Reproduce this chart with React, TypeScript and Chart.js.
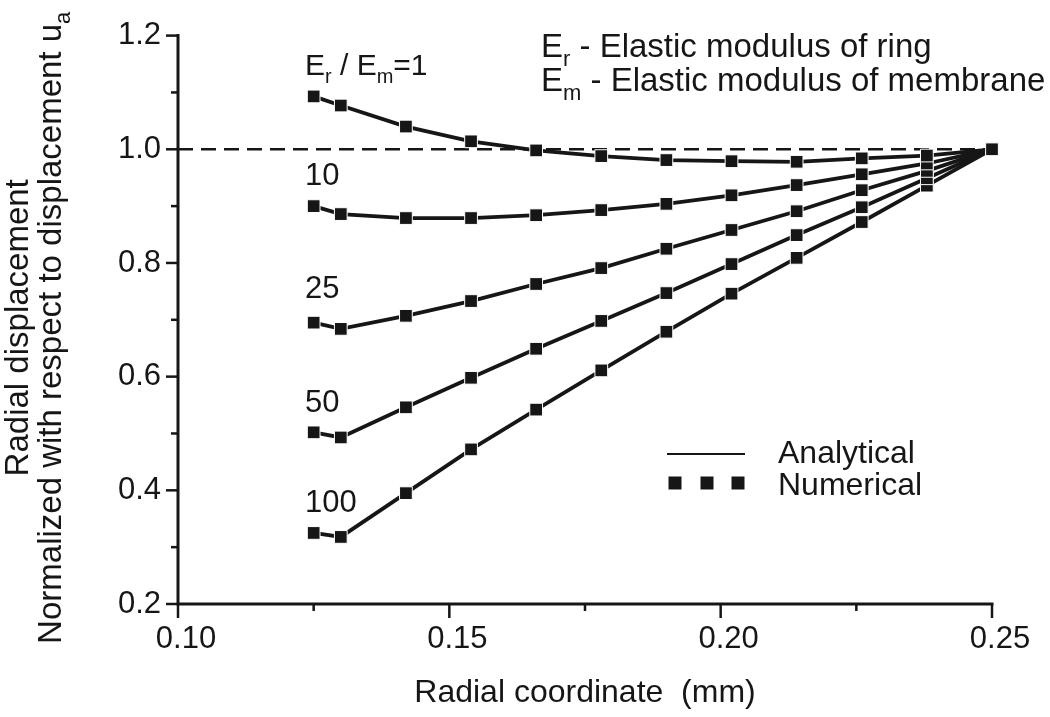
import { useEffect, useRef } from 'react';
import { Chart, registerables } from 'chart.js';

Chart.register(...registerables);

// ---- data ----
const radialCoordinate = [0.125, 0.13, 0.142, 0.154, 0.166, 0.178, 0.19, 0.202, 0.214, 0.226, 0.238, 0.25];
const ratio1 = [1.093, 1.077, 1.04, 1.014, 0.998, 0.988, 0.981, 0.979, 0.978, 0.984, 0.989, 1.0];
const ratio10 = [0.9, 0.886, 0.879, 0.879, 0.884, 0.893, 0.904, 0.919, 0.937, 0.956, 0.975, 1.0];
const ratio25 = [0.695, 0.684, 0.707, 0.733, 0.763, 0.791, 0.825, 0.858, 0.891, 0.928, 0.962, 1.0];
const ratio50 = [0.502, 0.493, 0.546, 0.598, 0.649, 0.698, 0.747, 0.798, 0.849, 0.898, 0.949, 1.0];
const ratio100 = [0.325, 0.318, 0.395, 0.472, 0.542, 0.611, 0.679, 0.746, 0.809, 0.872, 0.936, 1.0];
const seriesValues = [ratio1, ratio10, ratio25, ratio50, ratio100];
const seriesLabels = ['1', '10', '25', '50', '100'];
const referenceLevel = 1.0;
const xRange = [0.1, 0.25];
const yRange = [0.2, 1.2];
const xTickStep = 0.025;
const yTickStep = 0.1;
const xMajorStep = 0.05;
const yMajorStep = 0.2;

const FONT = '"Liberation Sans", Arial, Helvetica, sans-serif';
const INK = '#161616';

type Part = { t: string; sub?: boolean };

function drawRich(ctx: CanvasRenderingContext2D, parts: Part[], x: number, y: number, size: number, align: 'left' | 'center' = 'left') {
  const mainFont = `${size}px ${FONT}`;
  const subFont = `${Math.round(size * 0.68)}px ${FONT}`;
  const widths = parts.map((p) => {
    ctx.font = p.sub ? subFont : mainFont;
    return ctx.measureText(p.t).width;
  });
  const total = widths.reduce((a, b) => a + b, 0);
  let cx = align === 'center' ? x - total / 2 : x;
  ctx.textAlign = 'left';
  ctx.textBaseline = 'alphabetic';
  parts.forEach((p, i) => {
    ctx.font = p.sub ? subFont : mainFont;
    ctx.fillText(p.t, cx, p.sub ? y + size * 0.26 : y);
    cx += widths[i];
  });
}

function isMajor(v: number, step: number) {
  const r = v / step;
  return Math.abs(r - Math.round(r)) < 1e-6;
}

const overlay = {
  id: 'overlay',
  afterDraw(chart: any) {
    const ctx: CanvasRenderingContext2D = chart.ctx;
    const { left, right, top, bottom } = chart.chartArea;
    const xs = chart.scales.x;
    const ys = chart.scales.y;
    ctx.save();
    ctx.strokeStyle = INK;
    ctx.fillStyle = INK;

    // axis lines
    ctx.lineWidth = 3;
    ctx.lineCap = 'square';
    ctx.beginPath();
    ctx.moveTo(left, top);
    ctx.lineTo(left, bottom);
    ctx.lineTo(right, bottom);
    ctx.stroke();

    // ticks
    ctx.lineWidth = 2.5;
    ctx.lineCap = 'butt';
    xs.ticks.forEach((t: any) => {
      const px = xs.getPixelForValue(t.value);
      const len = isMajor(t.value, xMajorStep) ? 14 : 7;
      ctx.beginPath();
      ctx.moveTo(px, bottom);
      ctx.lineTo(px, bottom + len);
      ctx.stroke();
    });
    ys.ticks.forEach((t: any) => {
      const py = ys.getPixelForValue(t.value);
      const len = isMajor(t.value, yMajorStep) ? 12 : 7;
      ctx.beginPath();
      ctx.moveTo(left, py);
      ctx.lineTo(left - len, py);
      ctx.stroke();
    });

    // axis titles
    ctx.font = `32px ${FONT}`;
    ctx.textAlign = 'center';
    ctx.textBaseline = 'middle';
    ctx.fillText('Radial coordinate  (mm)', (left + right) / 2, 693);

    const midY = (top + bottom) / 2 + 8;
    ctx.save();
    ctx.translate(17, midY);
    ctx.rotate(-Math.PI / 2);
    drawRich(ctx, [{ t: 'Radial displacement' }], 0, 11, 33, 'center');
    ctx.restore();
    ctx.save();
    ctx.translate(50, midY);
    ctx.rotate(-Math.PI / 2);
    drawRich(ctx, [{ t: 'Normalized with respect to displacement u' }, { t: 'a', sub: true }], 0, 11, 33, 'center');
    ctx.restore();

    // series annotations
    const labelX = 305;
    drawRich(ctx, [{ t: 'E' }, { t: 'r', sub: true }, { t: ' / E' }, { t: 'm', sub: true }, { t: '=1' }], labelX, 75, 30);
    const labelBaselines = [185, 298, 412, 512];
    seriesLabels.slice(1).forEach((s, i) => {
      drawRich(ctx, [{ t: s }], labelX, labelBaselines[i], 31);
    });

    // top-right description
    drawRich(ctx, [{ t: 'E' }, { t: 'r', sub: true }, { t: ' - Elastic modulus of ring' }], 541, 57, 33);
    drawRich(ctx, [{ t: 'E' }, { t: 'm', sub: true }, { t: ' - Elastic modulus of membrane' }], 541, 91, 33);

    // legend
    ctx.lineWidth = 2;
    ctx.beginPath();
    ctx.moveTo(667, 454);
    ctx.lineTo(745, 454);
    ctx.stroke();
    [675, 707, 738].forEach((sx) => ctx.fillRect(sx - 6.5, 483 - 6.5, 13, 13));
    drawRich(ctx, [{ t: 'Analytical' }], 778, 463, 32);
    drawRich(ctx, [{ t: 'Numerical' }], 778, 495, 32);

    ctx.restore();
  },
};

export default function App() {
  const ref = useRef<HTMLCanvasElement>(null);
  useEffect(() => {
    document.body.style.margin = '0';
    const canvas = ref.current!;
    const mk = (vals: number[]) => ({
      data: radialCoordinate.map((x, i) => ({ x, y: vals[i] })),
      showLine: true,
      borderColor: INK,
      borderWidth: 3.8,
      pointStyle: 'rect',
      pointRadius: 9,
      pointHoverRadius: 9,
      pointBackgroundColor: INK,
      pointBorderColor: '#ffffff',
      pointBorderWidth: 1,
      tension: 0,
      clip: false as any,
    });
    const chart = new Chart(canvas, {
      type: 'scatter',
      data: {
        datasets: [
          ...seriesValues.map(mk),
          {
            data: [
              { x: xRange[0], y: referenceLevel },
              { x: xRange[1], y: referenceLevel },
            ],
            showLine: true,
            borderColor: INK,
            borderWidth: 2.5,
            borderDash: [15, 8],
            pointRadius: 0,
            clip: false as any,
          },
        ],
      },
      options: {
        responsive: false,
        animation: false,
        devicePixelRatio: 1,
        layout: { padding: { top: 34, right: 58, left: 0, bottom: 0 } },
        plugins: { legend: { display: false }, tooltip: { enabled: false } },
        scales: {
          x: {
            type: 'linear',
            min: xRange[0],
            max: xRange[1],
            afterFit: (s: any) => {
              s.height = 113;
            },
            grid: { display: false, drawTicks: false },
            border: { display: false },
            ticks: {
              stepSize: xTickStep,
              autoSkip: false,
              maxRotation: 0,
              padding: 17,
              labelOffset: 8,
              color: INK,
              font: { family: FONT, size: 31 },
              callback: (v: any) => (isMajor(Number(v), xMajorStep) ? Number(v).toFixed(2) : ''),
            },
          },
          y: {
            type: 'linear',
            min: yRange[0],
            max: yRange[1],
            afterFit: (s: any) => {
              s.width = 178;
            },
            grid: { display: false, drawTicks: false },
            border: { display: false },
            ticks: {
              stepSize: yTickStep,
              autoSkip: false,
              padding: 17,
              color: INK,
              font: { family: FONT, size: 31 },
              callback: (v: any) => (isMajor(Number(v), yMajorStep) ? Number(v).toFixed(1) : ''),
            },
          },
        },
      },
      plugins: [overlay],
    } as any);
    return () => chart.destroy();
  }, []);
  return (
    <div style={{ width: 1050, height: 717 }}>
      <canvas ref={ref} width={1050} height={717} style={{ display: 'block' }} />
    </div>
  );
}
